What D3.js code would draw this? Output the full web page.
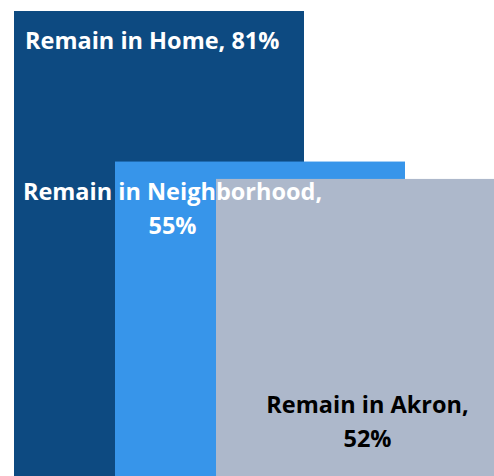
<!DOCTYPE html>
<html>
<head>
<meta charset="utf-8">
<script src="https://cdn.jsdelivr.net/npm/d3@7"></script>
<style>
  body { margin: 0; background: #fff; }
  text { font-family: "Open Sans", Lato, sans-serif; font-weight: bold; }
</style>
</head>
<body>
<div id="chart"></div>
<script>
// data
var categories = ['Remain in Home', 'Remain in Neighborhood', 'Remain in Akron'];
var values = [81, 55, 52];
var label_lines = [
  ['Remain in Home, 81%'],
  ['Remain in Neighborhood,', '55%'],
  ['Remain in Akron,', '52%']
];

const svg_width = 494
const svg_height = 476
const bar_width = 290
const colors = ['#0d4a81', '#3795ea', '#adb8cb']
const text_colors = ['#fff', '#fff', '#000']
// label placement relative to each bar's left edge / top
const label_pos = [
  {dx: 11, y: 49, anchor: 'start'},
  {dx: 57.5, y: 200, anchor: 'middle'},
  {dx: 151.5, y: 413, anchor: 'middle'}
];
const line_gap = 34

var svg = d3.select('#chart').append('svg')
  .attr('width', svg_width)
  .attr('height', svg_height);

// bars overlap: each one shifted right by a fixed step
var x = d3.scaleLinear().domain([0, 1]).range([14, 115]);
var y = d3.scaleLinear().domain([0, 100]).range([480, -99]);

svg.selectAll('rect.bar')
  .data(values)
  .enter().append('rect')
  .attr('class', 'bar')
  .attr('x', (d, i) => x(i))
  .attr('y', d => y(d))
  .attr('width', bar_width)
  .attr('height', d => y(0) - y(d))
  .attr('fill', (d, i) => colors[i]);

var labels = svg.selectAll('text.label')
  .data(categories)
  .enter().append('text')
  .attr('class', 'label')
  .attr('text-anchor', (d, i) => label_pos[i].anchor)
  .attr('fill', (d, i) => text_colors[i])
  .style('font-size', '23.5px');

labels.each(function(d, i){
  d3.select(this).selectAll('tspan')
    .data(label_lines[i])
    .enter().append('tspan')
    .attr('x', x(i) + label_pos[i].dx)
    .attr('y', (t, j) => label_pos[i].y + j * line_gap)
    .text(t => t);
});
</script>
</body>
</html>
